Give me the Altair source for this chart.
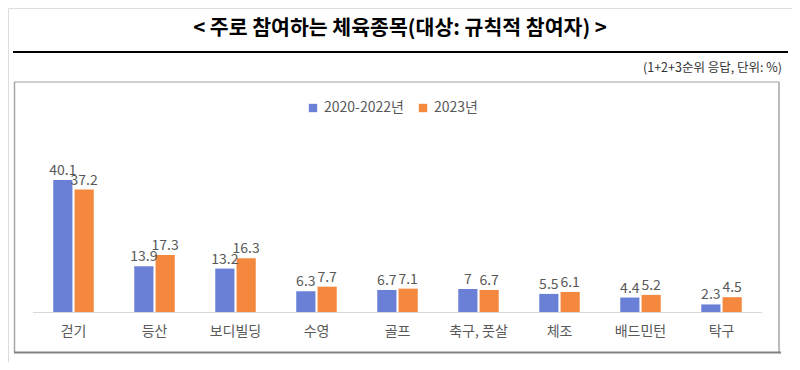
import altair as alt
import pandas as pd

categories = ["걷기", "등산", "보디빌딩", "수영", "골프", "축구, 풋살", "체조", "배드민턴", "탁구"]
series_names = ["2020-2022년", "2023년"]
values_2020_2022 = [40.1, 13.9, 13.2, 6.3, 6.7, 7, 5.5, 4.4, 2.3]
values_2023 = [37.2, 17.3, 16.3, 7.7, 7.1, 6.7, 6.1, 5.2, 4.5]
colors = ["#6A80D6", "#F5883F"]

title_text = "< 주로 참여하는 체육종목(대상: 규칙적 참여자) >"
note_text = "(1+2+3순위 응답, 단위: %)"

rows = []
for i, c in enumerate(categories):
    rows.append({"cat": c, "series": series_names[0], "value": values_2020_2022[i]})
    rows.append({"cat": c, "series": series_names[1], "value": values_2023[i]})
df = pd.DataFrame(rows)

FONT = "Noto Sans CJK KR"
W, H = 784, 354

xscale = alt.Scale(domain=categories, range=[25, 754], paddingInner=0.5, paddingOuter=0.25)
yscale = alt.Scale(domain=[0, 45], range=[304, 304 - 45 * 3.29])
offscale = alt.Scale(domain=series_names, paddingInner=0.1)

base = alt.Chart(df)

bars = base.mark_bar().encode(
    x=alt.X("cat:N", scale=xscale, axis=None, sort=categories),
    xOffset=alt.XOffset("series:N", scale=offscale),
    y=alt.Y("value:Q", scale=yscale, axis=None),
    color=alt.Color(
        "series:N",
        scale=alt.Scale(domain=series_names, range=colors),
        legend=alt.Legend(
            title=None,
            orient="none",
            legendX=298,
            legendY=93,
            direction="horizontal",
            symbolType="square",
            symbolSize=70,
            symbolStrokeWidth=0,
            labelFontSize=14,
            labelFont=FONT,
            labelColor="#595959",
            columnPadding=12,
            labelOffset=4,
        ),
    ),
)

labels = base.mark_text(baseline="bottom", dy=-2, fontSize=14, font=FONT, color="#595959").encode(
    x=alt.X("cat:N", scale=xscale, axis=None, sort=categories),
    xOffset=alt.XOffset("series:N", scale=offscale),
    y=alt.Y("value:Q", scale=yscale, axis=None),
    text=alt.Text("value:Q"),
)

cat_df = pd.DataFrame({"cat": categories})
cat_labels = alt.Chart(cat_df).mark_text(baseline="middle", fontSize=14, font=FONT, color="#595959").encode(
    x=alt.X("cat:N", scale=xscale, axis=None, sort=categories),
    y=alt.value(324),
    text="cat:N",
)

one = alt.Data(values=[{"k": 1}])

title = alt.Chart(one).mark_text(fontSize=20.5, fontWeight="bold", font=FONT, color="#000000", baseline="middle").encode(
    x=alt.value(392), y=alt.value(21), text=alt.value(title_text)
)
top_rule = alt.Chart(one).mark_rule(color="#000000", strokeWidth=2).encode(
    x=alt.value(5), x2=alt.value(780), y=alt.value(44)
)
note = alt.Chart(one).mark_text(fontSize=12.5, font=FONT, color="#333333", align="right", baseline="middle").encode(
    x=alt.value(774), y=alt.value(60), text=alt.value(note_text)
)
box_top = alt.Chart(one).mark_rule(color="#BFBFBF", strokeWidth=1.5).encode(
    x=alt.value(6), x2=alt.value(771), y=alt.value(74)
)
box_left = alt.Chart(one).mark_rule(color="#A6A6A6", strokeWidth=1.5).encode(
    x=alt.value(6.5), y=alt.value(74), y2=alt.value(344)
)
box_right = alt.Chart(one).mark_rule(color="#A6A6A6", strokeWidth=1.5).encode(
    x=alt.value(771), y=alt.value(74), y2=alt.value(344)
)
box_bottom = alt.Chart(one).mark_rule(color="#808080", strokeWidth=2).encode(
    x=alt.value(6), x2=alt.value(773), y=alt.value(344.5)
)
baseline_rule = alt.Chart(one).mark_rule(color="#D9D9D9", strokeWidth=1).encode(
    x=alt.value(25), x2=alt.value(754), y=alt.value(304.5)
)

chart = alt.layer(
    box_top, box_left, box_right, box_bottom, top_rule, title, note, baseline_rule, bars, labels, cat_labels
).properties(
    width=W, height=H, padding=0, autosize=alt.AutoSizeParams(type="none")
).configure_view(stroke=None).configure(background="#FFFFFF")

chart.save("out.html", embed_options={"renderer": "svg", "actions": False})
